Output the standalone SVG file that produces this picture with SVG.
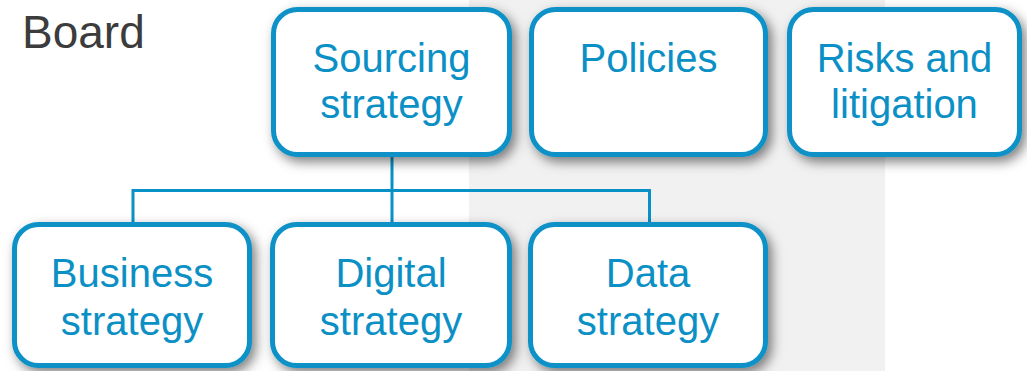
<svg xmlns="http://www.w3.org/2000/svg" width="1027" height="371" viewBox="0 0 1027 371">
  <defs>
    <filter id="shadow" x="-20%" y="-20%" width="140%" height="150%">
      <feDropShadow dx="4" dy="5" stdDeviation="6" flood-color="#000000" flood-opacity="0.5"/>
    </filter>
    <style>
      .box { fill: #ffffff; stroke: #0891c6; stroke-width: 5; filter: url(#shadow); }
      .label { font-family: "Liberation Sans", Arial, sans-serif; font-size: 40px; fill: #0b90c6; text-anchor: middle; }
      .title { font-family: "Liberation Sans", Arial, sans-serif; font-size: 46px; fill: #3c3c3c; }
      .link { fill: none; stroke: #0891c6; stroke-width: 3; }
    </style>
  </defs>

  <!-- backdrop bands -->
  <rect x="0" y="0" width="1027" height="371" fill="#ffffff"/>
  <rect x="469" y="0" width="416" height="371" fill="#f1f1f1"/>

  <text class="title" x="22" y="48">Board</text>

  <!-- connectors -->
  <g id="connectors">
    <path class="link" d="M392 157 V223"/>
    <path class="link" d="M133 223 V190.5 H649.5 V223"/>
  </g>

  <g id="sourcing">
    <rect class="box" x="273.5" y="9.5" width="236" height="145" rx="24"/>
    <text class="label" x="391.5" y="72">Sourcing</text>
    <text class="label" x="391.5" y="118">strategy</text>
  </g>

  <g id="policies">
    <rect class="box" x="531.5" y="9.5" width="234" height="145" rx="24"/>
    <text class="label" x="648.5" y="72">Policies</text>
  </g>

  <g id="risks">
    <rect class="box" x="789.5" y="9.5" width="230" height="145" rx="24"/>
    <text class="label" x="904.5" y="72">Risks and</text>
    <text class="label" x="904.5" y="118">litigation</text>
  </g>

  <g id="business">
    <rect class="box" x="14.5" y="224.5" width="235" height="141" rx="24"/>
    <text class="label" x="132" y="287">Business</text>
    <text class="label" x="132" y="335">strategy</text>
  </g>

  <g id="digital">
    <rect class="box" x="272.5" y="224.5" width="237" height="141" rx="24"/>
    <text class="label" x="391" y="287">Digital</text>
    <text class="label" x="391" y="335">strategy</text>
  </g>

  <g id="data">
    <rect class="box" x="530.5" y="224.5" width="235" height="141" rx="24"/>
    <text class="label" x="648" y="287">Data</text>
    <text class="label" x="648" y="335">strategy</text>
  </g>
</svg>
